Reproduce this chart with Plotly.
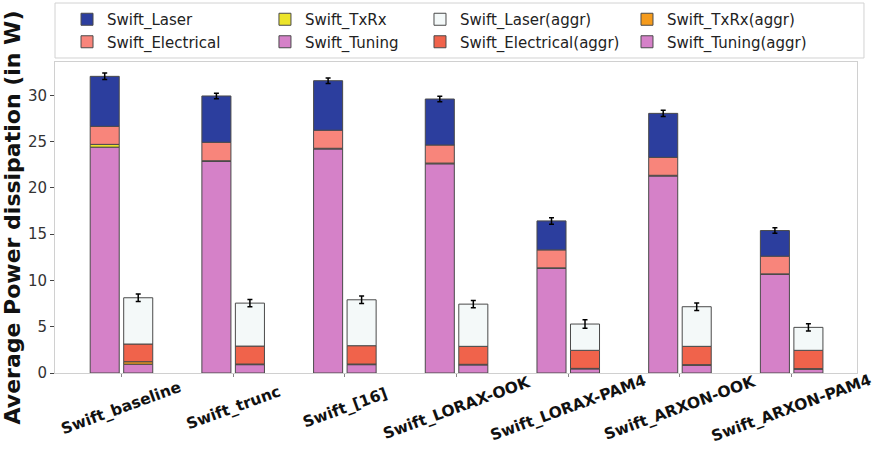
import numpy as np
import plotly.graph_objects as go

# ---- data -------------------------------------------------------------
categories = ["Swift_baseline", "Swift_trunc", "Swift_[16]", "Swift_LORAX-OOK",
              "Swift_LORAX-PAM4", "Swift_ARXON-OOK", "Swift_ARXON-PAM4"]

# per-component power (W), stacked bottom -> top: Tuning, TxRx, Electrical, Laser
tuning = [24.4, 22.85, 24.2, 22.6, 11.3, 21.28, 10.65]
txrx = [0.3, 0.08, 0.08, 0.08, 0.06, 0.08, 0.06]
electrical = [1.95, 2.0, 1.95, 1.95, 1.94, 1.94, 1.91]
laser = [5.4, 5.0, 5.35, 4.97, 3.13, 4.75, 2.77]
err_main = [0.35, 0.3, 0.3, 0.3, 0.35, 0.35, 0.3]

tuning_aggr = [0.95, 0.9, 0.9, 0.87, 0.44, 0.83, 0.41]
txrx_aggr = [0.27, 0.07, 0.07, 0.07, 0.06, 0.07, 0.06]
electrical_aggr = [1.91, 1.94, 1.98, 1.94, 1.95, 1.98, 1.98]
laser_aggr = [5.0, 4.64, 4.96, 4.56, 2.84, 4.28, 2.48]
err_aggr = [0.4, 0.4, 0.4, 0.4, 0.45, 0.4, 0.4]

y_ticks = [0, 5, 10, 15, 20, 25, 30]

# ---- styling ----------------------------------------------------------
FONT = "DejaVu Sans"
EDGE = "#4a4a4a"
BAR_W = 0.26
OFF_MAIN = -0.28
OFF_AGGR = 0.02

colors = {
    "Swift_Laser": "#2c3e9e",
    "Swift_Electrical": "#f8857b",
    "Swift_TxRx": "#ece42a",
    "Swift_Tuning": "#d581c8",
    "Swift_Laser(aggr)": "#f4f9f9",
    "Swift_Electrical(aggr)": "#f0634b",
    "Swift_TxRx(aggr)": "#f59b1c",
    "Swift_Tuning(aggr)": "#d581c8",
}


def stack(layers):
    arr = np.array(layers, dtype=float)
    bases = np.vstack([np.zeros(arr.shape[1]), np.cumsum(arr, axis=0)[:-1]])
    return arr, bases


main_vals, main_base = stack([tuning, txrx, electrical, laser])
aggr_vals, aggr_base = stack([tuning_aggr, txrx_aggr, electrical_aggr, laser_aggr])
main_names = ["Swift_Tuning", "Swift_TxRx", "Swift_Electrical", "Swift_Laser"]
aggr_names = ["Swift_Tuning(aggr)", "Swift_TxRx(aggr)", "Swift_Electrical(aggr)", "Swift_Laser(aggr)"]

# legend column for each series
legend_of = {
    "Swift_Laser": "legend", "Swift_Electrical": "legend",
    "Swift_TxRx": "legend2", "Swift_Tuning": "legend2",
    "Swift_Laser(aggr)": "legend3", "Swift_Electrical(aggr)": "legend3",
    "Swift_TxRx(aggr)": "legend4", "Swift_Tuning(aggr)": "legend4",
}
legend_rank = {
    "Swift_Laser": 1, "Swift_Electrical": 2, "Swift_TxRx": 1, "Swift_Tuning": 2,
    "Swift_Laser(aggr)": 1, "Swift_Electrical(aggr)": 2,
    "Swift_TxRx(aggr)": 1, "Swift_Tuning(aggr)": 2,
}

fig = go.Figure()


def add_stack(names, vals, bases, offset, err):
    for k, name in enumerate(names):
        top = k == len(names) - 1
        fig.add_trace(go.Bar(
            x=categories, y=vals[k], base=bases[k], name=name,
            width=BAR_W, offset=offset,
            marker=dict(color=colors[name], line=dict(color=EDGE, width=1)),
            error_y=dict(type="data", array=err, color="black",
                         thickness=1.5, width=2.5, visible=True) if top else None,
            legend=legend_of[name], legendrank=legend_rank[name],
        ))


add_stack(main_names, main_vals, main_base, OFF_MAIN, err_main)
add_stack(aggr_names, aggr_vals, aggr_base, OFF_AGGR, err_aggr)

# rotated category labels, centred under each group
for c in categories:
    fig.add_annotation(
        x=c, y=0, xref="x", yref="paper", yanchor="middle", xanchor="center",
        yshift=-35, text=c, textangle=-20, showarrow=False,
        font=dict(family=FONT, size=15.5, color="#111111", weight="bold"),
    )

# frame around the legend block
fig.add_shape(type="rect", xref="paper", yref="paper",
              x0=0.0, x1=1.0087, y0=1.0129, y1=1.1897,
              line=dict(color="#d2d2d2", width=1), fillcolor="rgba(255,255,255,0)")

legend_common = dict(
    orientation="v", yanchor="top", y=1.1897, xanchor="left",
    bgcolor="rgba(0,0,0,0)", borderwidth=0, tracegroupgap=0,
    font=dict(family=FONT, size=15, color="#222222"), itemwidth=30,
)

fig.update_layout(
    width=875, height=452,
    margin=dict(l=55, r=18, t=62, b=79, autoexpand=False),
    paper_bgcolor="white", plot_bgcolor="white",
    barmode="overlay",
    font=dict(family=FONT, color="#333333"),
    legend=dict(x=0.0150, **legend_common),
    legend2=dict(x=0.2618, **legend_common),
    legend3=dict(x=0.4551, **legend_common),
    legend4=dict(x=0.7132, **legend_common),
    xaxis=dict(
        type="category", range=[-0.595, 6.585], showticklabels=False,
        ticks="outside", ticklen=3, tickcolor="#888888",
        showline=True, linecolor="#d0d0d0", linewidth=1, mirror=True,
        showgrid=False, zeroline=False,
    ),
    yaxis=dict(
        range=[0, 33.6], tickvals=y_ticks, ticks="outside", ticklen=4,
        tickcolor="#444444", tickfont=dict(family=FONT, size=15, color="#333333"),
        showline=True, linecolor="#d0d0d0", linewidth=1, mirror=True,
        showgrid=False, zeroline=False,
        title=dict(text="Average Power dissipation (in W)", standoff=6,
                   font=dict(family=FONT, size=22, color="#111111", weight="bold")),
    ),
)

fig.write_html("out.html")
